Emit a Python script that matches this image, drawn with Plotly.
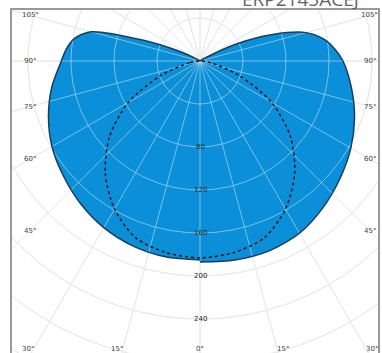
import numpy as np
import plotly.graph_objects as go

# ---- data (candela, angle gamma in degrees, 0 = straight down) ----
ANGLES = [0, 10, 20, 30, 40, 50, 60, 70, 80, 90, 95, 100, 105, 110, 115, 120, 130, 180]
I_RIGHT = [187, 188, 188, 185, 178, 170, 162, 153, 143, 133, 126, 117, 102, 72, 38, 6, 0, 0]
I_LEFT = [185, 185, 183, 179, 173, 166, 159, 150, 140, 129, 125, 119, 105, 57, 22, 5, 0, 0]

DASH_ANGLES = [0, 10, 20, 30, 40, 50, 60, 70, 80, 90]
I_DASH = [183, 181, 175, 159, 137, 110, 77, 38, 10, 0]

RADIAL_TICKS = [40, 80, 120, 160, 200, 240, 280, 320]
RADIAL_LABELS = [80, 120, 160, 200, 240]
SIDE_ANGLE_LABELS = [105, 90, 75, 60, 45]
BOTTOM_ANGLE_LABELS = [-30, -15, 0, 15, 30]
TITLE = "ERP2145ACEJ"

FILL = "#0a8fd8"
OUTLINE = "#1b3d5c"


def to_xy(gamma, r):
    g = np.radians(np.asarray(gamma, dtype=float))
    r = np.asarray(r, dtype=float)
    return r * np.sin(g), -r * np.cos(g)


# full solid curve: right side 0->180, then left side 180->0
g_full = list(ANGLES) + [-a for a in ANGLES[::-1]]
r_full = list(I_RIGHT) + list(I_LEFT[::-1])
sx, sy = to_xy(g_full, r_full)

dg = [-a for a in DASH_ANGLES[::-1]] + DASH_ANGLES[1:]
dr = I_DASH[::-1] + I_DASH[1:]
dx, dy = to_xy(dg, dr)

# grid geometry
gx, gy = [], []
t = np.linspace(0, 360, 361)
for R in RADIAL_TICKS:
    cx, cy = to_xy(t, np.full_like(t, R))
    gx += list(cx) + [None]
    gy += list(cy) + [None]
for a in range(0, 360, 15):
    lx, ly = to_xy([a, a], [0, 340])
    gx += list(lx) + [None]
    gy += list(ly) + [None]

fig = go.Figure()
fig.add_trace(go.Scatter(x=gx, y=gy, mode="lines", line=dict(color="#d6d6d6", width=1),
                         hoverinfo="skip", showlegend=False))
fig.add_trace(go.Scatter(x=sx, y=sy, mode="lines", fill="toself", fillcolor=FILL,
                         line=dict(width=0, shape="spline", smoothing=0.8),
                         hoverinfo="skip", showlegend=False))
fig.add_trace(go.Scatter(x=gx, y=gy, mode="lines", line=dict(color="rgba(255,255,255,0.45)", width=1),
                         hoverinfo="skip", showlegend=False))
fig.add_trace(go.Scatter(x=dx, y=dy, mode="lines",
                         line=dict(color="#111111", width=1.5, dash="3px,3px", shape="spline", smoothing=0.8),
                         hoverinfo="skip", showlegend=False))
fig.add_trace(go.Scatter(x=sx, y=sy, mode="lines",
                         line=dict(color=OUTLINE, width=1.5, shape="spline", smoothing=0.8),
                         hoverinfo="skip", showlegend=False))

ann = []
for R in RADIAL_LABELS:
    ann.append(dict(x=0, y=-R, text=str(R), showarrow=False,
                    font=dict(size=7, color="#222222", family="DejaVu Sans")))
SIDE_X = 158
for a in SIDE_ANGLE_LABELS:
    yv = -SIDE_X / np.tan(np.radians(a)) if a != 90 else 0.0
    for s in (-1, 1):
        ann.append(dict(x=s * SIDE_X, y=yv, text=f"{a}°", showarrow=False,
                        font=dict(size=7, color="#444444", family="DejaVu Sans")))
BOTTOM_Y = -268
for a in BOTTOM_ANGLE_LABELS:
    xv = -BOTTOM_Y * np.tan(np.radians(a))
    ann.append(dict(x=xv, y=BOTTOM_Y, text=f"{abs(a)}°", showarrow=False,
                    xshift=6 * np.sign(a),
                    font=dict(size=7, color="#444444", family="DejaVu Sans")))
ann.append(dict(xref="paper", yref="paper", x=1, y=1, xanchor="right", yanchor="bottom",
                xshift=-17, yshift=-4, text=TITLE, showarrow=False,
                font=dict(size=19, color="#666666", family="Open Sans")))

k = 1.075  # px per cd
fig.update_layout(
    width=382, height=353,
    margin=dict(l=12, r=4, t=10, b=0),
    paper_bgcolor="white", plot_bgcolor="white",
    annotations=ann,
    xaxis=dict(range=[(12 - 200) / k, (378 - 200) / k], showgrid=False, zeroline=False,
               showticklabels=False, ticks="", showline=True, mirror=True,
               linecolor="#999999", linewidth=1.5),
    yaxis=dict(range=[(61 - 353) / k, (61 - 10) / k], showgrid=False, zeroline=False,
               showticklabels=False, ticks="", showline=True, mirror=True,
               linecolor="#999999", linewidth=1.5),
)
fig.write_html("out.html", config={"displayModeBar": False},
               post_script="document.body.style.margin='0';document.body.style.overflow='hidden';")
